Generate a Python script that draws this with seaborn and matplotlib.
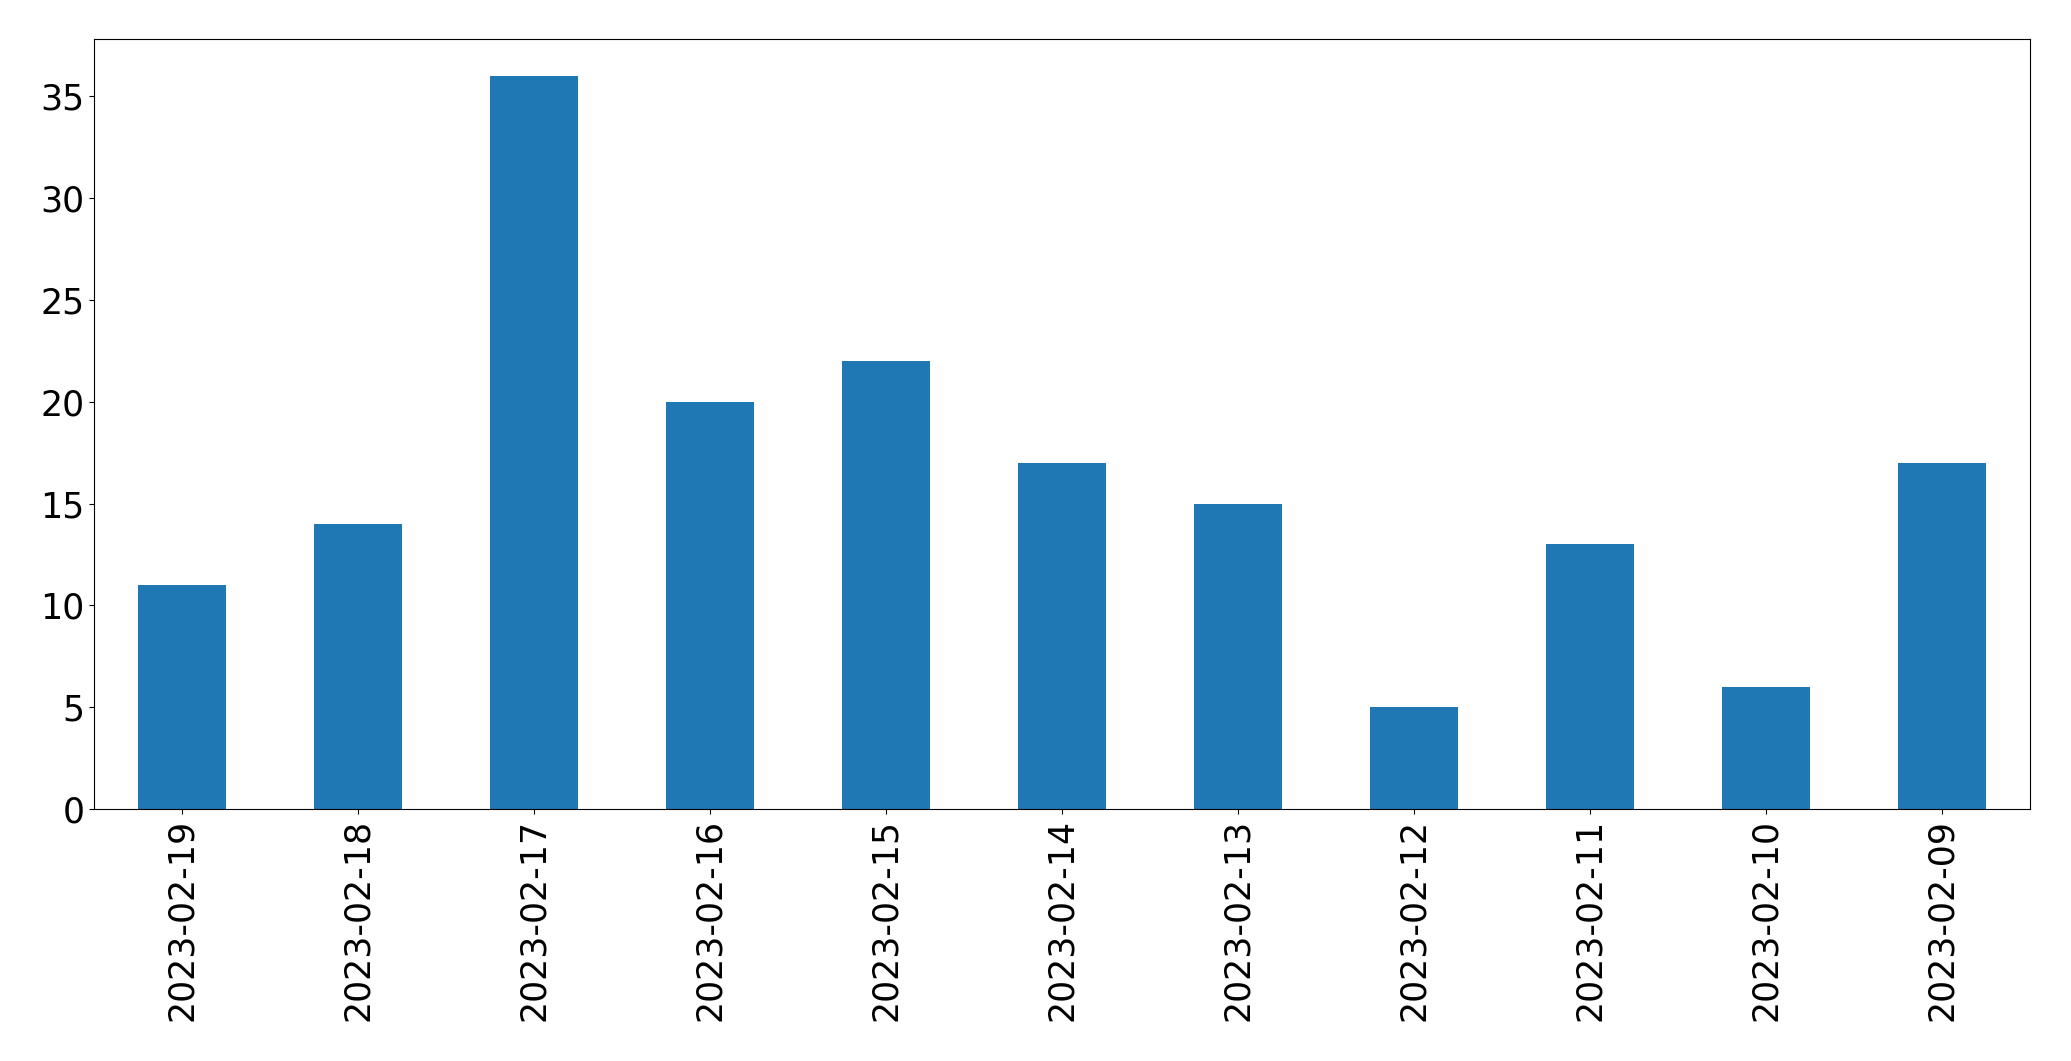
import matplotlib
matplotlib.use('Agg')
import matplotlib.pyplot as plt
import seaborn as sns
import pandas as pd

dates = ['2023-02-19', '2023-02-18', '2023-02-17', '2023-02-16', '2023-02-15',
         '2023-02-14', '2023-02-13', '2023-02-12', '2023-02-11', '2023-02-10',
         '2023-02-09']
counts = [11, 14, 36, 20, 22, 17, 15, 5, 13, 6, 17]

df = pd.DataFrame({'date': dates, 'count': counts})

fig = plt.figure(figsize=(20.71, 10.61), dpi=100)
ax = fig.add_axes([0.0454, 0.2375, 0.9346, 0.7255])
sns.barplot(x='date', y='count', data=df, color='#1f77b4', saturation=1,
            width=0.5, linewidth=0, ax=ax)
ax.set_xlabel('')
ax.set_ylabel('')
ax.tick_params(axis='both', labelsize=25)
ax.tick_params(axis='x', labelrotation=90)
ax.set_xlim(-0.5, len(dates) - 0.5)
fig.savefig('out.png', dpi=100)
